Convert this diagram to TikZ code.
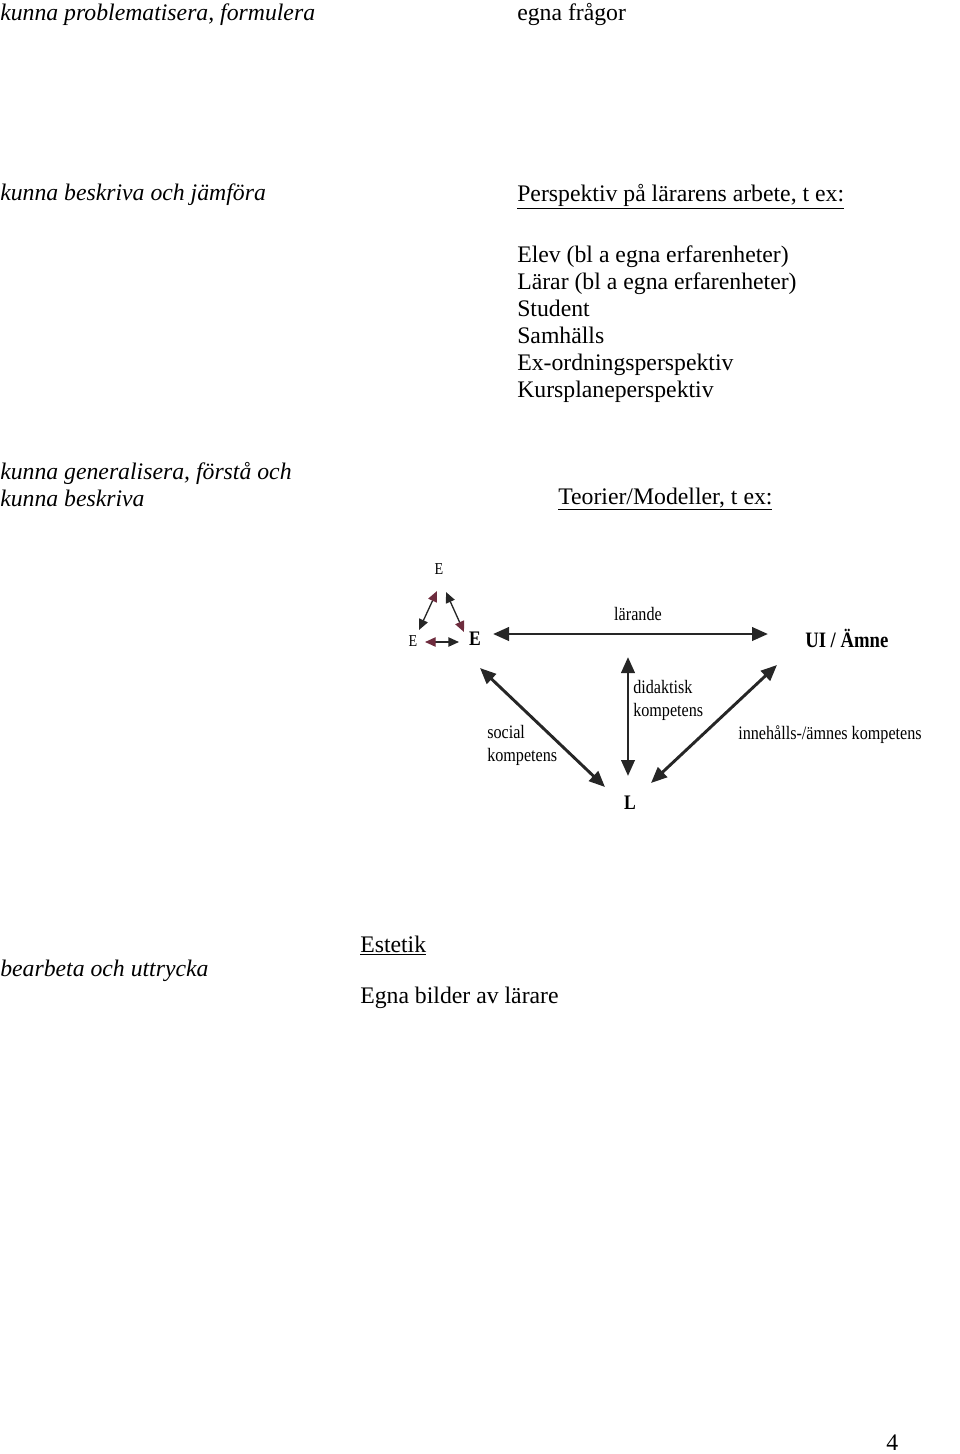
\documentclass[tikz,border=0pt]{standalone}
\usepackage{fontspec}
\setmainfont{Liberation Serif}
\newfontfamily\dfont[FakeStretch=0.85]{Liberation Serif}
\usetikzlibrary{arrows.meta}
\definecolor{maroon}{HTML}{6E2C3E}
\definecolor{ink}{HTML}{262626}
\begin{document}
\begin{tikzpicture}[x=0.75pt,y=-0.75pt,
  txt/.style={anchor=base west,inner sep=0pt,font=\fontsize{17.8}{20}\selectfont},
  ittxt/.style={anchor=base west,inner sep=0pt,font=\fontsize{17.8}{20}\selectfont\itshape},
  dl/.style={anchor=base west,inner sep=0pt,font=\dfont\fontsize{14.25}{16}\selectfont},
  smallE/.style={inner sep=0pt,font=\dfont\fontsize{12.5}{14}\selectfont},
  boldE/.style={inner sep=0pt,font=\dfont\bfseries\fontsize{15.5}{17}\selectfont},
  bigarrow/.style={line width=2.2pt,draw=ink,{Triangle[length=12pt,width=10pt]}-{Triangle[length=12pt,width=10pt]}},
  rbarrow/.style={line width=1pt,draw=ink,{Triangle[length=8pt,width=7pt,color=maroon]}-{Triangle[length=8pt,width=7pt,color=ink]}},
  brarrow/.style={line width=1pt,draw=ink,{Triangle[length=8pt,width=7pt,color=ink]}-{Triangle[length=8pt,width=7pt,color=maroon]}}]
\useasboundingbox (0,0) rectangle (960,1454);

% left column, italic
\node[ittxt] (l1) at (0,20) {kunna problematisera, formulera};
\node[ittxt] (l2) at (0,200) {kunna beskriva och jämföra};
\node[ittxt] (l3) at (0,479) {kunna generalisera, förstå och};
\node[ittxt] (l4) at (0,506) {kunna beskriva};
\node[ittxt] (l5) at (0,976) {bearbeta och uttrycka};

% right column
\node[txt] (r1) at (517,20) {egna frågor};
\node[txt] (r2) at (517,201) {\underline{Perspektiv på lärarens arbete, t ex:}};
\node[txt] (p1) at (517,262) {Elev (bl a egna erfarenheter)};
\node[txt] (p2) at (517,289) {Lärar (bl a egna erfarenheter)};
\node[txt] (p3) at (517,316) {Student};
\node[txt] (p4) at (517,343) {Samhälls};
\node[txt] (p5) at (517,370) {Ex-ordningsperspektiv};
\node[txt] (p6) at (517,397) {Kursplaneperspektiv};
\node[txt] (r3) at (558,504) {\underline{Teorier/Modeller, t ex:}};
\node[txt] (r4) at (360,952) {\underline{Estetik}};
\node[txt] (r5) at (360,1003) {Egna bilder av lärare};
\node[txt] (pg) at (886,1450) {4};

% diagram
\node[smallE] (Et) at (439,569) {E};
\node[smallE] (El) at (413,641) {E};
\node[boldE] (Eb) at (475,639) {E};
\node[anchor=base west,inner sep=0pt,font=\dfont\bfseries\fontsize{16.5}{18}\selectfont] (ui) at (805,647) {UI / Ämne};
\node[boldE] (L) at (630,803) {L};

\coordinate (ta) at (437,591);
\coordinate (tb) at (419,630);
\coordinate (tc) at (446,592);
\coordinate (td) at (464,632);
\coordinate (te) at (425,642);
\coordinate (tf) at (459,642);
\draw[rbarrow] (ta) -- (tb);
\draw[brarrow] (tc) -- (td);
\draw[rbarrow] (te) -- (tf);

\coordinate (h1) at (493,634);
\coordinate (h2) at (768,634);
\draw[bigarrow] (h1) -- (h2);
\node[dl,anchor=base] (lar) at (638,620) {lärande};

\coordinate (v1) at (628,657);
\coordinate (v2) at (628,776);
\draw[bigarrow] (v1) -- (v2);
\node[dl] (dk1) at (633,693) {didaktisk};
\node[dl] (dk2) at (633,716) {kompetens};

\coordinate (a1) at (480,668);
\coordinate (a2) at (605,787);
\draw[bigarrow] (a1) -- (a2);
\node[dl] (sk1) at (487,738) {social};
\node[dl] (sk2) at (487,761) {kompetens};

\coordinate (b1) at (777,665);
\coordinate (b2) at (651,783);
\draw[bigarrow] (b1) -- (b2);
\node[dl] (ik) at (738,739) {innehålls-/ämnes kompetens};
\end{tikzpicture}
\end{document}
